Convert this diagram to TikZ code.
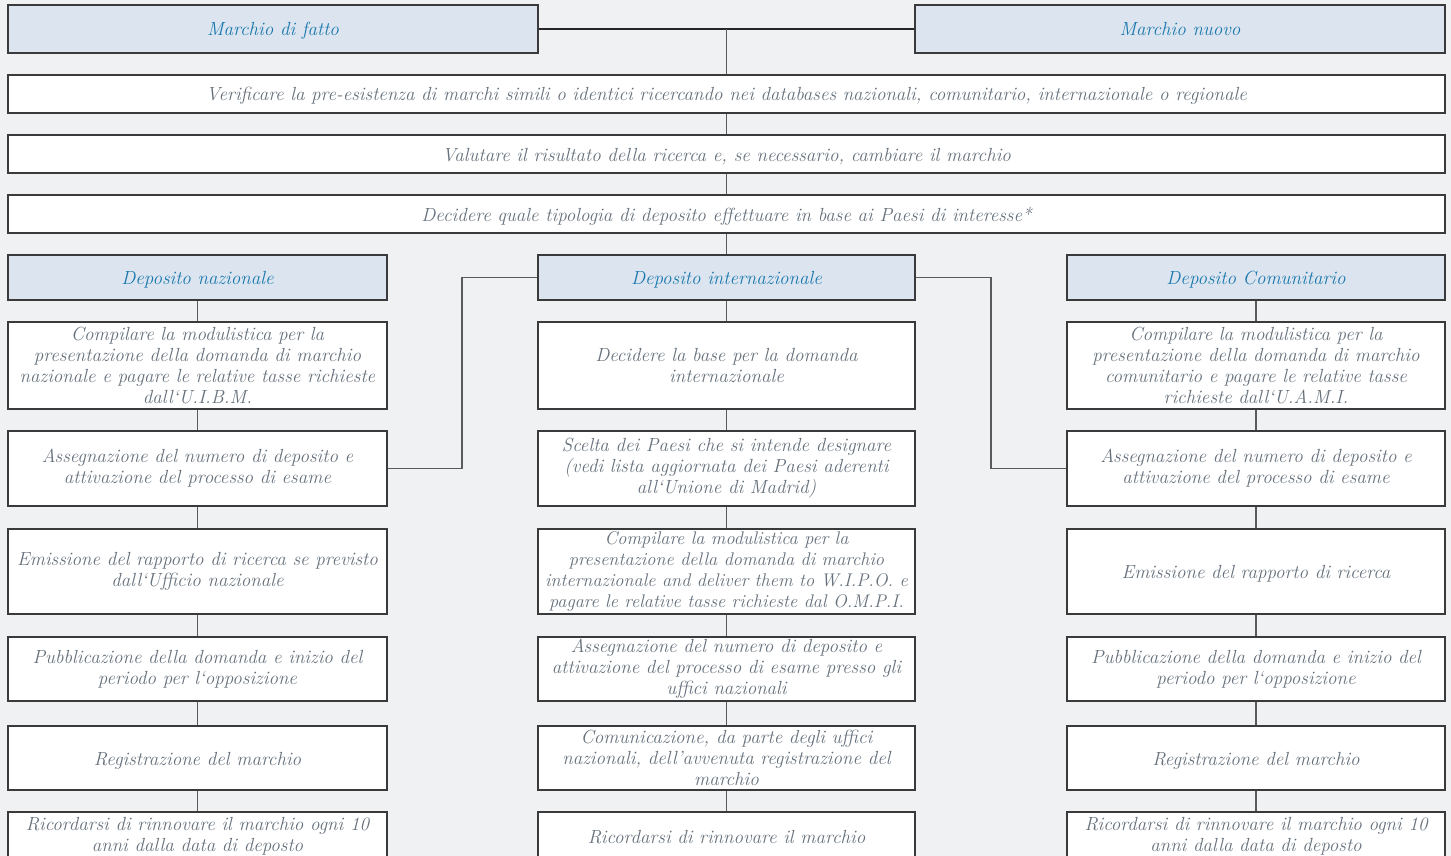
\documentclass[tikz,border=0pt]{standalone}
\usepackage{fontspec}
\definecolor{bgc}{HTML}{F0F1F3}
\definecolor{hdrfill}{HTML}{DCE5EF}
\definecolor{hdrtext}{HTML}{1A78AD}
\definecolor{bodytext}{HTML}{66717C}
\definecolor{edge}{HTML}{3A3A3A}
\definecolor{conn}{HTML}{5A5A5A}
\tikzset{
  box/.style={draw=edge, line width=1.2pt, fill=white, text=bodytext,
    font=\fontsize{19}{21}\selectfont\itshape, align=center, inner sep=0pt},
  hdr/.style={box, fill=hdrfill, text=hdrtext},
  oneline/.style={text height=14pt, text depth=0pt},
  tight/.style={font=\fontsize{18.3}{21}\selectfont\itshape},
  link/.style={draw=conn, line width=1.4pt},
  toplink/.style={draw=black!85, line width=1.1pt},
}
\newcommand\placebox[7]{%
  \node[#1, minimum width={(#5-#3)*1pt}, minimum height={(#6-#4)*1pt}]
    (#2) at ({(#3+#5)/2},{(#4+#6)/2}) {#7};}
\begin{document}
\begin{tikzpicture}[x=1pt,y=-1pt]
\fill[bgc] (0,0) rectangle (1451,856);
\useasboundingbox (0,0) rectangle (1451,856);

% top headers
\placebox{hdr,oneline}{mf}{8}{5}{538}{53}{Marchio di fatto}
\placebox{hdr,oneline}{mn}{915}{5}{1445}{53}{Marchio nuovo}
% full-width steps
\placebox{box,oneline}{v1}{8}{75}{1445}{113}{Verificare la pre-esistenza di marchi simili o identici ricercando nei databases nazionali, comunitario, internazionale o regionale}
\placebox{box,oneline}{v2}{8}{135}{1445}{173}{Valutare il risultato della ricerca e, se necessario, cambiare il marchio}
\placebox{box,oneline}{v3}{8}{195}{1445}{233}{Decidere quale tipologia di deposito effettuare in base ai Paesi di interesse*}
% column headers
\placebox{hdr,oneline}{lh}{8}{255}{387}{300}{Deposito nazionale}
\placebox{hdr,oneline}{mh}{538}{255}{915}{300}{Deposito internazionale}
\placebox{hdr,oneline}{rh}{1067}{255}{1445}{300}{Deposito Comunitario}
% left column
\placebox{box}{l1}{8}{322}{387}{409}{Compilare la modulistica per la\\presentazione della domanda di marchio\\nazionale e pagare le relative tasse richieste\\dall`U.I.B.M.}
\placebox{box}{l2}{8}{431}{387}{506}{Assegnazione del numero di deposito e\\attivazione del processo di esame}
\placebox{box}{l3}{8}{529}{387}{614}{Emissione del rapporto di ricerca se previsto\\dall`Ufficio nazionale}
\placebox{box}{l4}{8}{637}{387}{701}{Pubblicazione della domanda e inizio del\\periodo per l`opposizione}
\placebox{box,oneline}{l5}{8}{726}{387}{790}{Registrazione del marchio}
\placebox{box}{l6}{8}{812}{387}{860}{Ricordarsi di rinnovare il marchio ogni 10\\anni dalla data di deposto}
% middle column
\placebox{box}{m1}{538}{322}{915}{409}{Decidere la base per la domanda\\internazionale}
\placebox{box}{m2}{538}{431}{915}{506}{Scelta dei Paesi che si intende designare\\(vedi lista aggiornata dei Paesi aderenti\\all`Unione di Madrid)}
\placebox{box,tight}{m3}{538}{529}{915}{614}{Compilare la modulistica per la\\presentazione della domanda di marchio\\internazionale and deliver them to W.I.P.O. e\\pagare le relative tasse richieste dal O.M.P.I.}
\placebox{box}{m4}{538}{637}{915}{701}{Assegnazione del numero di deposito e\\attivazione del processo di esame presso gli\\uffici nazionali}
\placebox{box}{m5}{538}{726}{915}{790}{Comunicazione, da parte degli uffici\\nazionali, dell'avvenuta registrazione del\\marchio}
\placebox{box,oneline}{m6}{538}{812}{915}{860}{Ricordarsi di rinnovare il marchio}
% right column
\placebox{box}{r1}{1067}{322}{1445}{409}{Compilare la modulistica per la\\presentazione della domanda di marchio\\comunitario e pagare le relative tasse\\richieste dall`U.A.M.I.}
\placebox{box}{r2}{1067}{431}{1445}{506}{Assegnazione del numero di deposito e\\attivazione del processo di esame}
\placebox{box,oneline}{r3}{1067}{529}{1445}{614}{Emissione del rapporto di ricerca}
\placebox{box}{r4}{1067}{637}{1445}{701}{Pubblicazione della domanda e inizio del\\periodo per l`opposizione}
\placebox{box,oneline}{r5}{1067}{726}{1445}{790}{Registrazione del marchio}
\placebox{box}{r6}{1067}{812}{1445}{860}{Ricordarsi di rinnovare il marchio ogni 10\\anni dalla data di deposto}

% connectors
\draw[toplink] (mf.east) -- (mn.west);
\coordinate (tj) at (v1.north |- mf.east);
\draw[link] (tj) -- (v1.north);
\draw[link] (v1.south) -- (v2.north);
\draw[link] (v2.south) -- (v3.north);
\draw[link] (v3.south) -- (mh.north);
\foreach \c in {l,m,r}{
  \draw[link] (\c h.south) -- (\c 1.north);
  \draw[link] (\c 1.south) -- (\c 2.north);
  \draw[link] (\c 2.south) -- (\c 3.north);
  \draw[link] (\c 3.south) -- (\c 4.north);
  \draw[link] (\c 4.south) -- (\c 5.north);
  \draw[link] (\c 5.south) -- (\c 6.north);
}
\coordinate (eL) at (462,0);
\coordinate (eR) at (991,0);
\draw[link] (l2.east) -- (eL |- l2.east) -- (eL |- mh.west) -- (mh.west);
\draw[link] (mh.east) -- (eR |- mh.east) -- (eR |- r2.west) -- (r2.west);
\end{tikzpicture}
\end{document}
